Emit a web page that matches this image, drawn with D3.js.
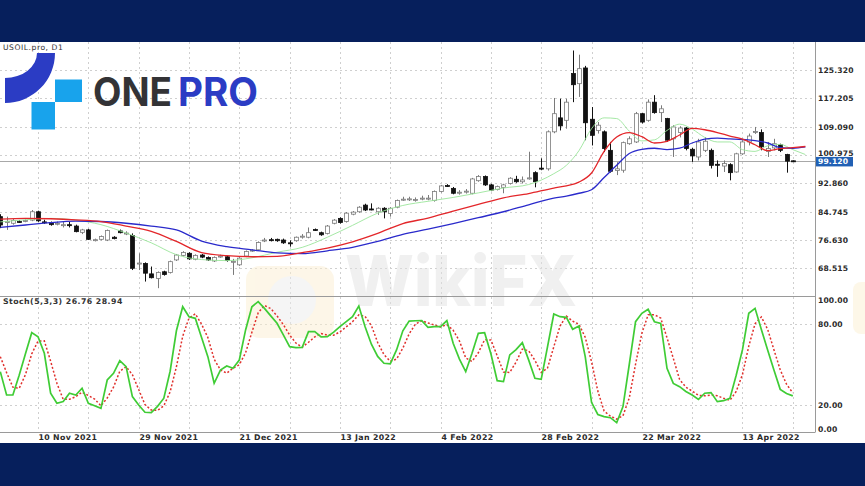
<!DOCTYPE html>
<html><head><meta charset="utf-8">
<script src="https://cdn.jsdelivr.net/npm/d3@7/dist/d3.min.js"></script>
<style>html,body{margin:0;padding:0;background:#fff;} svg{display:block;}</style>
</head><body>
<svg id="c" width="865" height="486"></svg>
<script>
const symbolLabel = "USOIL.pro, D1";
const stochLabel = "Stoch(5,3,3) 26.76 28.94";
const lastPrice = 99.120;

const open = [83.3,81.8,81.4,81.9,82.0,82.3,84.7,81.8,81.6,81.2,
80.9,81.0,80.6,78.8,79.5,76.6,76.8,76.6,77.4,79.2,
78.4,77.9,69.8,69.9,66.9,65.6,67.5,67.3,70.9,72.2,
72.8,71.1,72.3,71.6,70.6,71.9,71.8,70.3,69.5,72.0,
73.5,73.8,76.5,76.7,76.8,76.6,75.8,76.4,77.5,77.4,
79.6,78.7,78.5,81.4,82.8,81.9,84.0,84.7,86.6,85.5,
84.7,85.7,84.2,86.0,88.2,88.3,88.0,88.5,88.4,87.9,
90.5,92.2,91.4,90.1,90.4,90.0,93.6,94.8,92.4,91.1,
91.7,92.8,94.0,93.3,94.2,95.9,97.2,97.0,107.6,111.6,
110.9,124.3,121.4,125.9,111.2,108.0,107.6,102.3,96.5,96.6,
104.2,104.7,112.8,110.9,116.1,113.1,111.4,105.6,107.4,108.7,
102.6,100.4,102.3,102.3,98.3,97.8,98.2,96.1,101.3,104.7,
107.5,107.4,102.0,103.0,103.9,101.1,99.3];
const high = [84.0,83.3,82.6,82.3,82.5,85.2,85.0,82.4,81.9,81.9,
81.8,81.8,81.0,79.8,79.8,77.0,77.9,79.6,77.7,79.6,
79.1,78.5,72.8,70.2,69.0,67.6,67.8,70.7,72.6,73.4,
73.1,72.5,72.6,71.9,71.9,72.4,72.1,71.2,71.7,73.6,
74.0,76.2,77.2,77.2,77.0,77.0,76.5,77.6,78.3,80.2,
79.9,79.0,80.9,82.6,83.1,84.6,84.9,86.3,87.0,87.1,
86.0,86.0,86.0,88.2,89.0,89.0,88.8,89.3,89.5,90.8,
92.4,92.6,91.8,90.9,91.2,94.4,95.2,95.1,92.7,92.2,
92.7,94.6,95.0,94.8,101.9,96.3,100.0,108.0,117.3,117.1,
117.1,130.9,129.7,126.5,114.7,110.4,108.0,104.7,98.9,104.8,
106.3,113.3,113.0,116.9,118.1,115.2,111.6,109.5,109.2,109.0,
103.0,105.6,106.1,102.8,99.4,99.4,98.6,101.6,105.2,107.1,
109.0,108.3,104.7,105.6,104.2,101.3,99.4];
const low = [80.0,79.5,81.0,81.5,81.7,82.0,81.8,81.2,80.7,80.8,
80.2,80.2,78.8,78.3,76.6,76.2,76.5,76.3,76.8,78.5,
78.0,68.0,68.0,64.7,65.6,62.8,66.4,67.0,70.6,71.9,
70.9,70.8,71.4,70.6,70.3,71.5,70.4,66.6,69.2,71.7,
73.2,73.5,76.0,76.2,76.1,75.5,74.7,76.1,77.0,77.1,
79.2,77.8,78.2,81.1,81.3,81.6,83.7,84.4,84.9,85.1,
83.8,82.8,83.3,85.7,87.8,87.8,87.6,88.0,88.0,87.6,
90.2,91.8,89.7,89.6,89.9,89.7,93.3,92.1,90.6,90.8,
90.0,92.5,93.0,92.8,93.9,91.7,96.6,96.5,107.2,108.0,
108.5,116.1,117.6,105.2,103.7,107.1,101.8,95.9,95.2,95.9,
103.9,104.4,110.0,110.5,112.8,110.4,104.7,100.4,106.0,102.3,
99.0,99.4,101.8,97.1,94.7,96.1,93.7,95.9,101.0,103.7,
107.0,102.3,100.4,102.3,101.8,95.9,99.0];
const close = [80.9,81.9,82.2,81.8,82.2,84.7,82.1,81.6,81.0,81.4,
81.0,80.9,79.0,79.5,76.8,76.7,77.6,79.3,77.0,78.7,
78.6,68.5,70.0,67.1,65.8,67.3,66.7,70.4,72.3,73.0,
71.2,72.2,71.7,70.9,71.6,72.0,70.7,70.5,71.4,73.3,
73.7,75.9,76.6,76.5,76.4,75.8,75.7,77.4,77.7,78.7,
79.4,78.1,80.6,82.3,81.6,84.3,84.6,86.0,85.2,85.4,
85.7,84.7,85.7,87.9,88.3,88.4,88.2,88.6,88.6,90.5,
92.1,92.0,90.0,90.3,90.6,94.1,94.8,92.4,90.9,91.9,
92.4,94.3,93.3,93.8,94.4,93.3,97.0,107.6,112.8,109.3,
116.1,121.1,125.7,110.2,106.6,109.5,102.8,96.3,97.0,104.5,
105.6,112.8,110.4,116.1,113.1,114.2,105.2,109.0,108.7,102.8,
100.7,104.7,104.9,98.0,98.1,98.5,95.9,101.3,104.7,106.4,
107.7,103.3,102.8,104.2,102.3,99.2,99.12];

// moving-average lines at these bar positions
const maIndex = [0,4,8,12,16,20,24,28,32,36,40,44,48,52,56,60,64,68,72,76,80,84,88,
90,92,94,96,98,100,102,104,106,108,110,112,114,116,118,120,122,124,126,128];
const maBlue = [80.2,80.9,81.6,82.0,81.9,81.4,80.6,79.5,76.3,74.7,73.8,72.9,72.7,73.5,74.5,76.2,78.2,79.7,81.3,83.0,84.7,86.7,88.6,
89.2,90.0,91.0,94.5,98.0,101.4,102.6,102.9,102.5,102.9,104.4,105.5,105.8,105.6,105.4,105.1,104.4,103.1,102.9,103.3];
const maRed = [82.6,82.8,82.7,82.4,81.9,80.6,79.1,76.2,73.0,72.1,71.8,71.9,73.0,74.3,76.1,78.5,81.3,82.9,84.9,86.8,88.7,89.9,91.5,
92.1,93.2,95.8,102.0,106.1,107.4,106.2,104.4,104.9,106.7,108.6,108.2,107.4,106.4,105.5,103.9,102.2,102.8,103.1,103.4];
const maGreen = [81.8,82.4,82.8,82.3,81.0,78.6,75.8,72.4,71.0,70.7,71.5,73.1,74.5,77.4,80.8,84.3,86.5,87.7,88.8,90.1,91.5,92.5,95.6,
98.0,102.2,108.5,111.6,111.4,107.8,105.0,105.3,108.0,109.8,108.4,106.0,104.7,104.7,102.5,102.0,103.6,104.0,102.5,101.1];

const stochK = [44.7,27.4,27.4,42,58,73.6,70.6,58.3,28.7,21.3,
22.5,28.7,27.4,32.4,21.3,19.5,17.5,38.5,43.5,52.9,
48.4,26.2,20.0,14.6,14.3,19.0,25.0,45.0,75.0,92.8,
85.4,84.2,70.0,55.8,36.1,45.9,48.9,47.2,53.3,75.6,
92.8,96.6,91.6,86.0,80.5,72.0,63.2,62.5,62.7,74.3,
74.3,70.5,70.6,74.0,78.0,81.7,85.4,93.3,78.0,65.0,
56.0,50.9,50.4,60.8,75.0,82.2,82.4,82.5,77.5,78.0,
78.0,82.5,65.7,54.0,44.7,58.3,73.1,73.6,58.0,38.0,
37.3,57.1,61.0,66.2,53.4,39.8,39.0,63.0,87.4,85.4,
84.9,76.1,78.5,55.8,22.0,13.0,11.4,10.6,6.9,18.8,
50.0,81.7,87.9,90.9,81.7,80.5,47.2,36.0,33.6,30.0,
27.4,24.2,28.7,29.2,22.5,23.2,24.9,42.0,61.0,87.9,
91.6,76.0,60.8,46.0,31.6,28.5,26.76];
const stochD = [55.8,44.0,33.2,32.3,42.5,57.9,67.4,67.5,52.5,36.1,
24.2,24.2,26.2,29.5,27.0,24.4,19.4,25.2,33.2,45.0,
48.3,42.5,31.5,20.3,16.3,16.0,19.4,29.7,48.3,70.9,
84.4,87.5,79.9,70.0,54.0,45.9,43.6,47.3,49.8,58.7,
73.9,88.3,93.7,91.4,86.0,79.5,71.9,65.9,62.8,66.5,
70.4,73.0,71.8,71.7,74.2,77.9,81.7,86.8,85.6,78.8,
66.3,57.3,52.4,54.0,62.1,72.7,79.9,82.4,80.8,79.3,
77.8,79.5,75.4,67.4,54.8,52.3,58.7,68.3,68.2,56.5,
44.4,44.1,51.8,61.4,60.2,53.1,44.1,47.3,63.1,78.6,
85.9,82.1,79.8,70.1,52.1,30.3,15.5,11.7,9.6,12.1,
25.2,50.2,73.2,86.8,86.8,84.4,69.8,54.6,38.9,33.2,
30.3,27.2,26.8,27.4,26.8,25.0,23.5,30.0,42.6,63.6,
80.2,85.2,76.1,60.9,46.1,35.4,28.94];

const priceTicks = [125.320,117.205,109.090,100.975,92.860,84.745,76.630,68.515];
const stochTicks = [100,80,20,0];
const stochGrid = [80,20];
const dateTickIndex = [6,22,38,54,70,86,102,118];
const dateTickLabels = ["10 Nov 2021","29 Nov 2021","21 Dec 2021","13 Jan 2022","4 Feb 2022","28 Feb 2022","22 Mar 2022","13 Apr 2022"];

// ---------- layout ----------
const W = 865, H = 486;
const plotR = 815, pTop = 42, pBot = 296, sTop = 297, sBot = 432;
const svg = d3.select("#c");
const x = d3.scaleLinear().domain([0,126]).range([0.3,792.8]);
const yP = d3.scaleLinear().domain([60.56,133.34]).range([pBot,pTop]);
const yS = d3.scaleLinear().domain([0,100]).range([sBot,sTop]);
const FONT = "'DejaVu Sans', Verdana, sans-serif";

svg.append("rect").attr("width",W).attr("height",H).attr("fill","#fff");

const defs = svg.append("defs");
defs.append("clipPath").attr("id","cp").append("rect").attr("x",0).attr("y",pTop).attr("width",plotR).attr("height",pBot-pTop);
defs.append("clipPath").attr("id","cs").append("rect").attr("x",0).attr("y",sTop).attr("width",plotR).attr("height",sBot-sTop);

// grid
const grid = svg.append("g").attr("stroke","#cfcfcf").attr("stroke-width",1).attr("stroke-dasharray","2,3");
const gridIdx = d3.range(6,127,8);
grid.selectAll("line.v").data(gridIdx).join("line")
  .attr("x1",d=>Math.round(x(d))+0.5).attr("x2",d=>Math.round(x(d))+0.5)
  .attr("y1",pTop).attr("y2",sBot);
grid.selectAll("line.hp").data(priceTicks).join("line")
  .attr("x1",0).attr("x2",plotR).attr("y1",d=>Math.round(yP(d))+0.5).attr("y2",d=>Math.round(yP(d))+0.5);
grid.selectAll("line.hs").data(stochGrid).join("line")
  .attr("x1",0).attr("x2",plotR).attr("y1",d=>Math.round(yS(d))+0.5).attr("y2",d=>Math.round(yS(d))+0.5);

// watermark (faint)
const wm = svg.append("g").attr("opacity",0.5);
wm.append("rect").attr("x",246).attr("y",266).attr("width",88).attr("height",72).attr("rx",14).attr("fill","#fcefd2");
wm.append("circle").attr("cx",292).attr("cy",300).attr("r",24).attr("fill","#ececec");
wm.append("text").attr("x",345).attr("y",306).attr("font-family","Inter, sans-serif").attr("font-weight",800)
  .attr("font-size",70).attr("fill","#e2e2e2").attr("textLength",232).attr("lengthAdjust","spacingAndGlyphs").text("WikiFX");
wm.append("rect").attr("x",853).attr("y",282).attr("width",20).attr("height",52).attr("rx",8).attr("fill","#fcefd2");

// current price line
svg.append("line").attr("x1",0).attr("x2",plotR).attr("y1",Math.round(yP(lastPrice))+0.5).attr("y2",Math.round(yP(lastPrice))+0.5)
  .attr("stroke","#a8a8a8").attr("stroke-width",1);

// candles
const bars = d3.range(open.length).map(i=>({i,o:open[i],h:high[i],l:low[i],c:close[i]}));
const cg = svg.append("g").attr("clip-path","url(#cp)");
const cand = cg.selectAll("g").data(bars).join("g");
cand.append("line")
  .attr("x1",d=>Math.round(x(d.i))+0.5).attr("x2",d=>Math.round(x(d.i))+0.5)
  .attr("y1",d=>yP(d.h)).attr("y2",d=>yP(d.l))
  .attr("stroke",d=>d.c>=d.o?"#7a7a7a":"#111").attr("stroke-width",1);
cand.append("rect")
  .attr("x",d=>Math.round(x(d.i))-1.5).attr("width",4)
  .attr("y",d=>yP(Math.max(d.o,d.c)))
  .attr("height",d=>Math.max(1,Math.abs(yP(d.o)-yP(d.c))))
  .attr("fill",d=>d.c>=d.o?"#fff":"#111")
  .attr("stroke",d=>d.c>=d.o?"#7a7a7a":"#111").attr("stroke-width",0.8);

// moving averages
const maLine = vals => d3.line().x((d,k)=>x(maIndex[k])).y(d=>yP(d)).curve(d3.curveMonotoneX)(vals);
const mg = svg.append("g").attr("clip-path","url(#cp)").attr("fill","none");
mg.append("path").attr("d",maLine(maGreen)).attr("stroke","#9be59b").attr("stroke-width",0.9);
mg.append("path").attr("d",maLine(maBlue)).attr("stroke","#2a2acb").attr("stroke-width",1.3);
mg.append("path").attr("d",maLine(maRed)).attr("stroke","#e3262a").attr("stroke-width",1.3);

// stochastic
const sg = svg.append("g").attr("clip-path","url(#cs)").attr("fill","none");
const sLine = d3.line().x((d,k)=>x(k)).y(d=>yS(d));
sg.append("path").attr("d",sLine(stochD)).attr("stroke","#e0302c").attr("stroke-width",1.5).attr("stroke-dasharray","2,2");
sg.append("path").attr("d",sLine(stochK)).attr("stroke","#3fcc35").attr("stroke-width",1.7);

// frame lines
const fr = svg.append("g").attr("stroke","#9a9a9a").attr("stroke-width",1);
fr.append("line").attr("x1",0).attr("x2",plotR).attr("y1",pBot+0.5).attr("y2",pBot+0.5);
fr.append("line").attr("x1",0).attr("x2",plotR).attr("y1",sBot+0.5).attr("y2",sBot+0.5);
fr.append("line").attr("x1",plotR+0.5).attr("x2",plotR+0.5).attr("y1",pTop).attr("y2",sBot+0.5);

// price axis labels
svg.append("g").selectAll("text").data(priceTicks).join("text")
  .attr("x",818).attr("y",d=>yP(d)+3-(d===100.975?2.2:0)).attr("font-family",FONT).attr("font-weight","bold").attr("font-size",7.6)
  .attr("fill","#2a2a2a").attr("letter-spacing",0.15).text(d=>d3.format(".3f")(d));
// current price tag
const lp = yP(lastPrice);
svg.append("rect").attr("x",816).attr("y",lp-4.5).attr("width",37).attr("height",9.5).attr("fill","#2160b4");
svg.append("text").attr("x",818).attr("y",lp+3).attr("font-family",FONT).attr("font-weight","bold").attr("font-size",7.6)
  .attr("fill","#fff").attr("letter-spacing",0.15).text(d3.format(".3f")(lastPrice));

// stoch axis labels
svg.append("g").selectAll("text").data(stochTicks).join("text")
  .attr("x",818).attr("y",d=>yS(d)+3+(d===100?3:0)+(d===0?-3:0))
  .attr("font-family",FONT).attr("font-weight","bold").attr("font-size",7.6)
  .attr("fill","#2a2a2a").attr("letter-spacing",0.15).text(d=>d3.format(".2f")(d));

// date labels
svg.append("g").selectAll("text").data(dateTickIndex).join("text")
  .attr("x",d=>Math.round(x(d))+0.5).attr("y",439.5).attr("font-family",FONT).attr("font-weight","bold")
  .attr("font-size",7.8).attr("fill","#2a2a2a").attr("letter-spacing",0.35).text((d,k)=>dateTickLabels[k]);

// pane titles
svg.append("text").attr("x",3).attr("y",50).attr("font-family",FONT).attr("font-size",7.6)
  .attr("fill","#333").attr("letter-spacing",0.55).text(symbolLabel);
svg.append("text").attr("x",3).attr("y",304).attr("font-family",FONT).attr("font-weight","bold").attr("font-size",7.8)
  .attr("fill","#333").attr("letter-spacing",0.45).text(stochLabel);

// logo
const lg = svg.append("g");
lg.append("path").attr("d","M55,53 A50,50 0 0 1 5,103 L5,78 A32,25 0 0 0 37,53 Z").attr("fill","#2b3cc4");
lg.append("rect").attr("x",55).attr("y",79.5).attr("width",27).attr("height",22.5).attr("fill","#18a3ec");
lg.append("rect").attr("x",31.5).attr("y",102).attr("width",23.5).attr("height",27.5).attr("fill","#18a3ec");
lg.append("text").attr("x",93).attr("y",106).attr("font-family","Inter, 'Open Sans', sans-serif").attr("font-weight",700)
  .attr("font-size",39).attr("fill","#333336").attr("textLength",79).attr("lengthAdjust","spacingAndGlyphs").text("ONE");
lg.append("text").attr("x",178).attr("y",106).attr("font-family","Inter, 'Open Sans', sans-serif").attr("font-weight",700)
  .attr("font-size",39).attr("fill","#2b3cc4").attr("textLength",80).attr("lengthAdjust","spacingAndGlyphs").text("PRO");

// navy bands
svg.append("rect").attr("x",0).attr("y",0).attr("width",W).attr("height",pTop).attr("fill","#061f5c");
svg.append("rect").attr("x",0).attr("y",443).attr("width",W).attr("height",H-443).attr("fill","#061f5c");
</script>
</body></html>
